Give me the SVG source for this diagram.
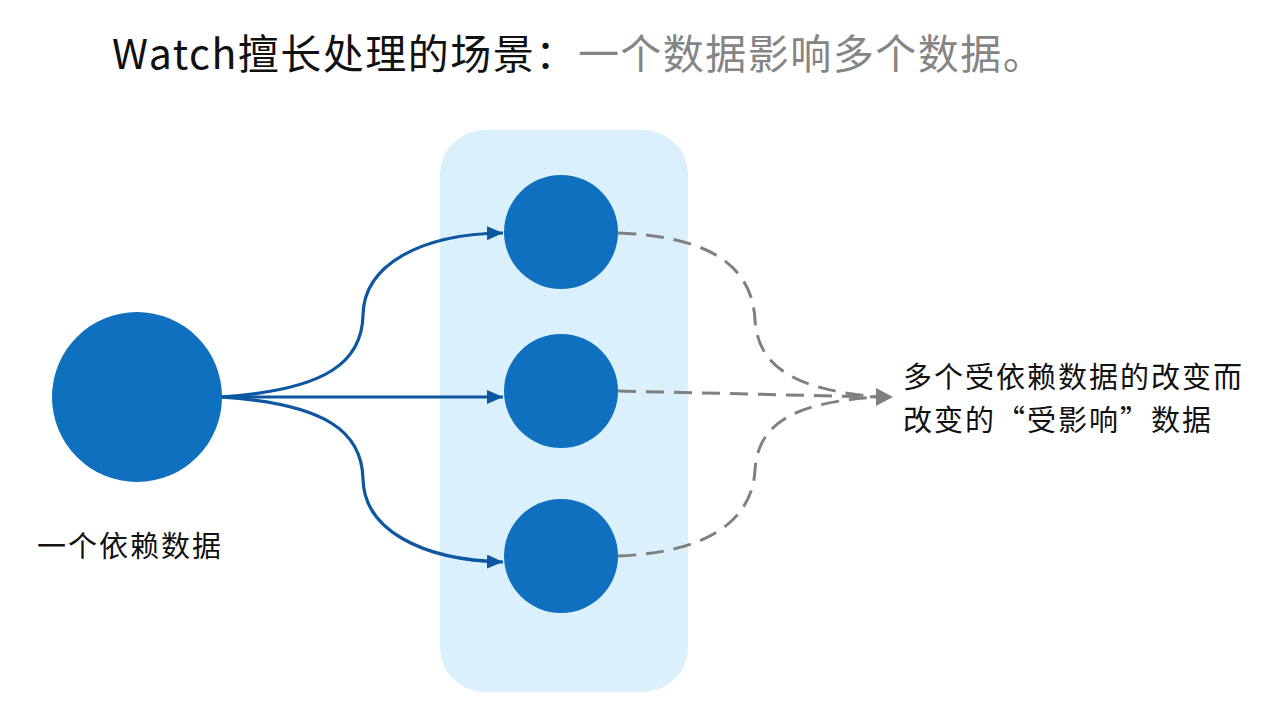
<svg xmlns="http://www.w3.org/2000/svg" width="1274" height="718" viewBox="0 0 1274 718">
<style>
.cjk{font-family:"Noto Sans CJK SC","Noto Sans",sans-serif;}
.lbl{font-size:29px;fill:#111;letter-spacing:2px;}
.node{fill:#0e70be;}
.solid{fill:none;stroke:#0d56a0;stroke-width:3.2;}
.dash{fill:none;stroke:#808080;stroke-width:3;stroke-dasharray:18 10;}
</style>
<defs>
<marker id="ab" markerWidth="16" markerHeight="14" refX="16" refY="7" orient="auto" markerUnits="userSpaceOnUse" viewBox="0 0 16 14"><path d="M0,0 L16,7 L0,14 Z" fill="#0d56a0"/></marker>
</defs>
<rect width="1274" height="718" fill="#ffffff"/>
<text x="112" y="69" class="cjk" font-size="41" letter-spacing="1.5"><tspan fill="#111">Watch擅长处理的场景：</tspan><tspan fill="#858585">一个数据影响多个数据。</tspan></text>
<g id="group-box"><rect x="440" y="130" width="248" height="562" rx="45" fill="#daf0fd"/></g>
<g id="connectors">
<path class="solid" d="M220,397 C330,390 362,360 363,315 C364,265 420,234 503,233" marker-end="url(#ab)"/>
<path class="solid" d="M220,397 L503,397" marker-end="url(#ab)"/>
<path class="solid" d="M220,397 C330,404 362,434 363,479 C364,529 420,560 503,562" marker-end="url(#ab)"/>
<path class="dash" d="M618,233 C700,236 752,260 755,320 C758,370 800,390 878,397"/>
<path class="dash" d="M618,391 L878,397"/>
<path class="dash" d="M618,556 C700,553 752,525 755,470 C758,420 800,402 878,397"/>
<path d="M876,388 L893,397 L876,406 Z" fill="#808080"/>
</g>
<g id="source"><circle class="node" cx="137" cy="397" r="85"/><text x="37" y="557" class="cjk lbl">一个依赖数据</text></g>
<g id="dep1"><circle class="node" cx="561" cy="232" r="57"/></g>
<g id="dep2"><circle class="node" cx="561" cy="391" r="57"/></g>
<g id="dep3"><circle class="node" cx="561" cy="556" r="57"/></g>
<g id="result-label"><text class="cjk lbl"><tspan x="903" y="388">多个受依赖数据的改变而</tspan><tspan x="903" y="431">改变的“受影响”数据</tspan></text></g>
</svg>
